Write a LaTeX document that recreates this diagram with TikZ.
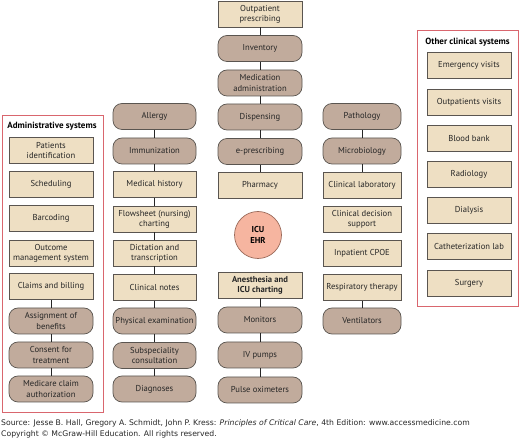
\documentclass[tikz,border=0pt]{standalone}
\usepackage{fontspec}
\setmainfont{PT Sans}
\newfontfamily\footfont{DejaVu Sans}
\definecolor{tanfill}{HTML}{EEDFC3}
\definecolor{brownfill}{HTML}{C1AB9C}
\definecolor{boxline}{HTML}{5A5550}
\definecolor{redline}{HTML}{D9666E}
\definecolor{ehrfill}{HTML}{F6B5A0}
\definecolor{ehrline}{HTML}{9A6A5A}
\tikzset{
  base/.style={draw=boxline, line width=0.7pt, align=center, inner sep=1pt,
    font=\fontsize{8.6}{10.2}\selectfont, text=black!85},
  tanbox/.style={base, rectangle, fill=tanfill, minimum height=26pt},
  brownbox/.style={base, rectangle, rounded corners=9pt, fill=brownfill, minimum height=26pt},
  wA/.style={minimum width=84pt},
  wB/.style={minimum width=83pt},
  wD/.style={minimum width=78pt},
  groupbox/.style={draw=redline, line width=0.9pt},
  grouptitle/.style={font=\bfseries\fontsize{9}{10.5}\selectfont, inner sep=0pt},
  link/.style={draw=black!85, line width=1pt},
  ehr/.style={circle, draw=ehrline, line width=0.7pt, fill=ehrfill, minimum size=47pt,
    align=center, inner sep=0pt, font=\bfseries\fontsize{8.6}{10.2}\selectfont},
  foot/.style={anchor=west, inner sep=0pt, font=\footfont\fontsize{7.7}{9}\selectfont, text=black!85}
}
\begin{document}
\begin{tikzpicture}[x=1pt,y=-1pt]
\useasboundingbox (0,0) rectangle (520,443);
% group frames
\draw[groupbox] (2,115) rectangle (103,412);
\draw[groupbox] (417,30) rectangle (518,306);
\node[grouptitle] (admt) at (52,126) {Administrative systems};
\node[grouptitle] (othert) at (467.5,42) {Other clinical systems};
% column 1
\node[tanbox,wA] (pid) at (51,150.5) {Patients\\identification};
\node[tanbox,wA] (sch) at (51,184.5) {Scheduling};
\node[tanbox,wA] (bar) at (51,218.5) {Barcoding};
\node[tanbox,wA] (out) at (51,253) {Outcome\\management system};
\node[tanbox,wA] (clm) at (51,286.5) {Claims and billing};
\node[brownbox,wA] (asg) at (51,321) {Assignment of\\benefits};
\node[brownbox,wA] (cns) at (51,355) {Consent for\\treatment};
\node[brownbox,wA] (mca) at (51,389) {Medicare claim\\authorization};
\draw[link] (clm) -- (asg) (asg) -- (cns) (cns) -- (mca);
% column 2
\node[brownbox,wB] (all) at (154.5,116.5) {Allergy};
\node[brownbox,wB] (imm) at (154.5,151) {Immunization};
\node[tanbox,wB] (mh) at (154.5,184.5) {Medical history};
\node[tanbox,wB] (flw) at (154.5,219) {Flowsheet (nursing)\\charting};
\node[tanbox,wB] (dic) at (154.5,253) {Dictation and\\transcription};
\node[tanbox,wB] (cln) at (154.5,287.5) {Clinical notes};
\node[brownbox,wB] (phy) at (154.5,321) {Physical examination};
\node[brownbox,wB] (sub) at (154.5,355.5) {Subspeciality\\consultation};
\node[brownbox,wB] (dia) at (154.5,389) {Diagnoses};
\draw[link] (all) -- (imm) (imm) -- (mh) (mh) -- (flw) (flw) -- (dic)
  (dic) -- (cln) (cln) -- (phy) (phy) -- (sub) (sub) -- (dia);
% column 3
\node[tanbox,wA] (opp) at (260,14) {Outpatient\\prescribing};
\node[brownbox,wA] (inv) at (260,48.5) {Inventory};
\node[brownbox,wA] (med) at (260,83) {Medication\\administration};
\node[brownbox,wA] (dsp) at (260,117) {Dispensing};
\node[brownbox,wA] (epr) at (260,151.5) {e-prescribing};
\node[tanbox,wA] (phm) at (260,185) {Pharmacy};
\draw[link] (opp) -- (inv) (inv) -- (med) (med) -- (dsp) (dsp) -- (epr) (epr) -- (phm);
\node[ehr] (icu) at (258,235) {ICU\\EHR};
\node[tanbox,wA,font=\bfseries\fontsize{8.6}{10.2}\selectfont] (ane) at (260,285) {Anesthesia and\\ICU charting};
\node[brownbox,wA] (mon) at (260,320) {Monitors};
\node[brownbox,wA] (ivp) at (260,355) {IV pumps};
\node[brownbox,wA] (pox) at (260,390) {Pulse oximeters};
\draw[link] (ane) -- (mon) (mon) -- (ivp) (ivp) -- (pox);
% column 4
\node[brownbox,wD] (pat) at (362,116.5) {Pathology};
\node[brownbox,wD] (mic) at (362,151) {Microbiology};
\node[tanbox,wD] (lab) at (362,185) {Clinical laboratory};
\node[tanbox,wD] (cds) at (362,219) {Clinical decision\\support};
\node[tanbox,wD] (cpo) at (362,253.5) {Inpatient CPOE};
\node[tanbox,wD] (rsp) at (362,287.5) {Respiratory therapy};
\node[brownbox,wD] (ven) at (362,321) {Ventilators};
\draw[link] (pat) -- (mic) (mic) -- (lab) (rsp) -- (ven);
% column 5
\node[tanbox,wA] (emv) at (469,65.5) {Emergency visits};
\node[tanbox,wA] (opv) at (469,102.5) {Outpatients visits};
\node[tanbox,wA] (bbk) at (469,138.5) {Blood bank};
\node[tanbox,wA] (rad) at (469,174.5) {Radiology};
\node[tanbox,wA] (dly) at (469,210.5) {Dialysis};
\node[tanbox,wA] (cat) at (469,246.5) {Catheterization lab};
\node[tanbox,wA] (sur) at (469,283) {Surgery};
% footer
\node[foot] (src) at (1,423) {Source: Jesse B. Hall, Gregory A. Schmidt, John P. Kress: \textit{Principles of Critical Care}, 4th Edition: www.accessmedicine.com};
\node[foot] (cpy) at (1,434) {Copyright © McGraw-Hill Education. All rights reserved.};
\end{tikzpicture}
\end{document}
